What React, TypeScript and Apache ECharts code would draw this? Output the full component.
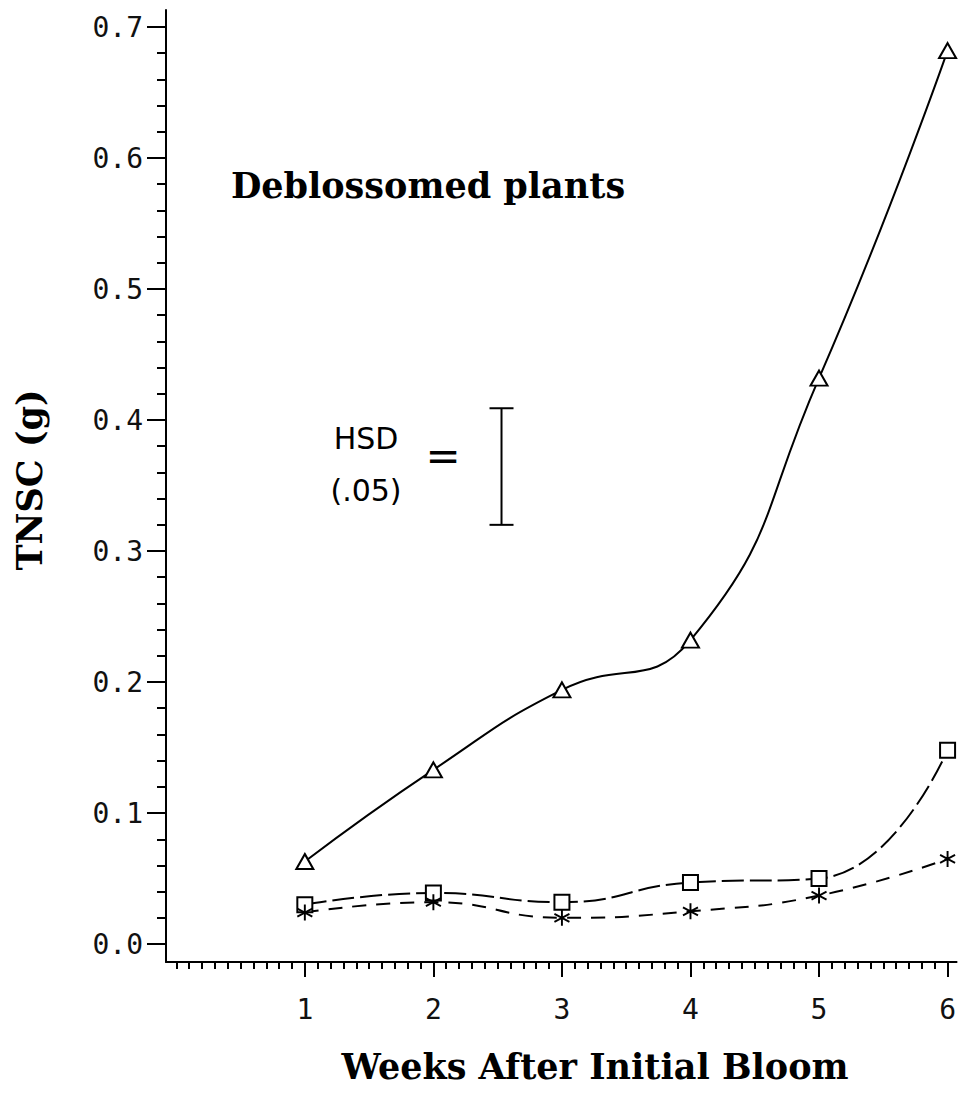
import React, { useEffect, useRef } from "react";
import * as echarts from "echarts";

// ---- data ----
const weeks = [1, 2, 3, 4, 5, 6];
const triangleValues = [0.063, 0.133, 0.194, 0.232, 0.432, 0.682];
const squareValues = [0.03, 0.039, 0.032, 0.047, 0.05, 0.148];
const starValues = [0.024, 0.032, 0.02, 0.025, 0.037, 0.065];
const xTickValues = [1, 2, 3, 4, 5, 6];
const yTickValues = [0, 0.1, 0.2, 0.3, 0.4, 0.5, 0.6, 0.7];
// HSD (.05) bar: x position, low, high
const hsdBar = [2.53, 0.32, 0.409];
const hsdTexts = ["HSD", "(.05)"];
const panelTitle = "Deblossomed plants";
const xTitle = "Weeks After Initial Bloom";
const yTitle = "TNSC (g)";

// minor tick positions
const xMinor: number[] = [];
for (let i = 0; i <= 60; i++) if (i % 10 !== 0 || i === 0) xMinor.push(i / 10);
const yMinor: number[] = [];
for (let i = 1; i <= 35; i++) if (i % 5 !== 0) yMinor.push(Math.round(i * 2) / 100);

const X_MIN = -0.08;
const X_MAX = 6.07;
const Y_MIN = -0.0137;
const Y_MAX = 0.713;

const INK = "#000";
const STAR_PATH = "path://M0,0L0,20M-8.66,5L8.66,15M-8.66,15L8.66,5";

export default function App() {
  const ref = useRef<HTMLDivElement>(null);

  useEffect(() => {
    if (!ref.current) return;
    const chart = echarts.init(ref.current, undefined, { renderer: "svg" });

    const tickLine = { color: INK, width: 2 };
    const labelFont = { fontFamily: "DejaVu Sans Mono", fontSize: 28, color: "#111" };

    const option: any = {
      animation: false,
      backgroundColor: "#fff",
      grid: { left: 166, right: 1, top: 10, bottom: 131, containLabel: false },
      xAxis: [
        {
          type: "value",
          min: X_MIN,
          max: X_MAX,
          position: "bottom",
          axisLine: { show: true, onZero: false, lineStyle: tickLine },
          axisTick: { show: true, customValues: xTickValues, length: 15, lineStyle: tickLine },
          axisLabel: { show: true, customValues: xTickValues, margin: 33, ...labelFont },
          splitLine: { show: false },
        },
        {
          type: "value",
          min: X_MIN,
          max: X_MAX,
          position: "bottom",
          axisLine: { show: false, onZero: false },
          axisTick: { show: true, customValues: xMinor, length: 7, lineStyle: tickLine },
          axisLabel: { show: false, customValues: xMinor },
          splitLine: { show: false },
        },
      ],
      yAxis: [
        {
          type: "value",
          min: Y_MIN,
          max: Y_MAX,
          position: "left",
          axisLine: { show: true, onZero: false, lineStyle: tickLine },
          axisTick: { show: true, customValues: yTickValues, length: 19, lineStyle: tickLine },
          axisLabel: {
            show: true,
            customValues: yTickValues,
            margin: 23,
            formatter: (v: number) => v.toFixed(1),
            ...labelFont,
          },
          splitLine: { show: false },
        },
        {
          type: "value",
          min: Y_MIN,
          max: Y_MAX,
          position: "left",
          axisLine: { show: false, onZero: false },
          axisTick: { show: true, customValues: yMinor, length: 9, lineStyle: tickLine },
          axisLabel: { show: false, customValues: yMinor },
          splitLine: { show: false },
        },
      ],
      series: [
        {
          type: "line",
          name: "triangle",
          xAxisIndex: 0,
          yAxisIndex: 0,
          data: weeks.map((w, i) => [w, triangleValues[i]]),
          smooth: 0.5,
          lineStyle: { color: INK, width: 2 },
          symbol: "emptyTriangle",
          symbolSize: [17, 15],
          itemStyle: { color: INK, borderWidth: 2 },
          z: 4,
        },
        {
          type: "line",
          name: "square",
          xAxisIndex: 0,
          yAxisIndex: 0,
          data: weeks.map((w, i) => [w, squareValues[i]]),
          smooth: 0.5,
          lineStyle: { color: INK, width: 2, type: [22, 6] },
          symbol: "emptyRect",
          symbolSize: 15,
          itemStyle: { color: INK, borderWidth: 2 },
          z: 3,
        },
        {
          type: "line",
          name: "star",
          xAxisIndex: 0,
          yAxisIndex: 0,
          data: weeks.map((w, i) => [w, starValues[i]]),
          smooth: 0.5,
          lineStyle: { color: INK, width: 2, type: [14, 10] },
          symbol: STAR_PATH,
          symbolSize: [15, 16],
          itemStyle: { color: INK, borderColor: INK, borderWidth: 2 },
          z: 3,
        },
        {
          type: "custom",
          name: "HSD",
          xAxisIndex: 0,
          yAxisIndex: 0,
          data: [hsdBar],
          renderItem: (_params: any, api: any) => {
            const top = api.coord([api.value(0), api.value(2)]);
            const bot = api.coord([api.value(0), api.value(1)]);
            const half = 12;
            const st = { stroke: INK, lineWidth: 2 };
            return {
              type: "group",
              children: [
                { type: "line", shape: { x1: top[0], y1: top[1], x2: bot[0], y2: bot[1] }, style: st },
                { type: "line", shape: { x1: top[0] - half, y1: top[1], x2: top[0] + half, y2: top[1] }, style: st },
                { type: "line", shape: { x1: bot[0] - half, y1: bot[1], x2: bot[0] + half, y2: bot[1] }, style: st },
              ],
            };
          },
          z: 5,
        },
      ],
      graphic: [
        {
          type: "text",
          x: 428,
          y: 185,
          style: {
            text: panelTitle,
            fontFamily: "DejaVu Serif",
            fontWeight: "bold",
            fontSize: 35,
            fill: INK,
            align: "center",
            verticalAlign: "middle",
            textAlign: "center",
            textVerticalAlign: "middle",
          },
        },
        {
          type: "text",
          x: 366,
          y: 438,
          style: {
            text: hsdTexts[0],
            fontFamily: "DejaVu Sans",
            fontSize: 30,
            fill: INK,
            align: "center",
            verticalAlign: "middle",
            textAlign: "center",
            textVerticalAlign: "middle",
          },
        },
        {
          type: "text",
          x: 366,
          y: 490,
          style: {
            text: hsdTexts[1],
            fontFamily: "DejaVu Sans",
            fontSize: 30,
            fill: INK,
            align: "center",
            verticalAlign: "middle",
            textAlign: "center",
            textVerticalAlign: "middle",
          },
        },
        {
          type: "text",
          x: 443,
          y: 455,
          style: {
            text: "=",
            fontFamily: "DejaVu Sans",
            fontSize: 42,
            fill: INK,
            align: "center",
            verticalAlign: "middle",
            textAlign: "center",
            textVerticalAlign: "middle",
          },
        },
        {
          type: "text",
          x: 595,
          y: 1066,
          style: {
            text: xTitle,
            fontFamily: "DejaVu Serif",
            fontWeight: "bold",
            fontSize: 35,
            fill: INK,
            align: "center",
            verticalAlign: "middle",
            textAlign: "center",
            textVerticalAlign: "middle",
          },
        },
        {
          type: "text",
          x: 29,
          y: 480,
          rotation: Math.PI / 2,
          style: {
            text: yTitle,
            fontFamily: "DejaVu Serif",
            fontWeight: "bold",
            fontSize: 35,
            fill: INK,
            align: "center",
            verticalAlign: "middle",
            textAlign: "center",
            textVerticalAlign: "middle",
          },
        },
      ],
    };

    chart.setOption(option);
    return () => chart.dispose();
  }, []);

  return (
    <div
      ref={ref}
      style={{ position: "absolute", left: 0, top: 0, width: 959, height: 1093, background: "#fff" }}
    />
  );
}
